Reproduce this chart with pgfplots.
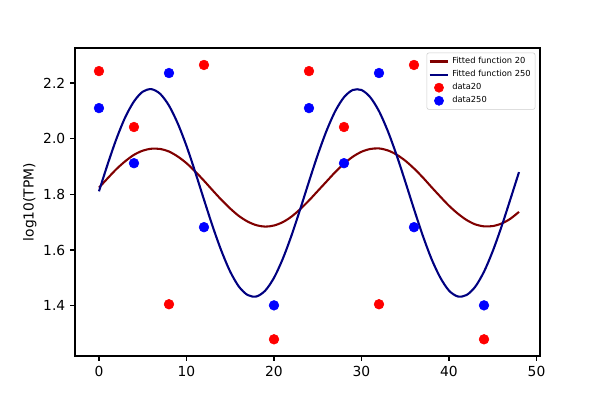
\documentclass[border=0pt]{standalone}
\usepackage{pgfplots}
\pgfplotsset{compat=1.18}
\usepackage{fontspec}
\setmainfont{DejaVu Sans}
\definecolor{fitred}{RGB}{128,0,0}
\definecolor{fitblue}{RGB}{0,0,128}
\begin{document}
\begin{tikzpicture}
\path[use as bounding box] (0,0) rectangle (6in,4in);
\begin{axis}[
  at={(0.75in,0.44in)}, anchor=south west,
  scale only axis, width=4.65in, height=3.08in,
  xmin=-2.74, xmax=50.4, ymin=1.219, ymax=2.326,
  xtick={0,10,20,30,40,50},
  ytick={1.4,1.6,1.8,2.0,2.2},
  yticklabel style={/pgf/number format/.cd,fixed,fixed zerofill,precision=1},
  /pgf/number format/assume math mode=true,
  tick align=outside, tick pos=left,
  major tick length=3.5bp,
  every tick/.style={black, line width=0.8bp},
  axis line style={line width=0.8bp},
  ticklabel style={font=\fontsize{10}{12}\selectfont},
  ylabel={log10(TPM)},
  ylabel style={at={(axis description cs:-0.097,0.5)}, anchor=center, font=\fontsize{10}{12}\selectfont},
  legend style={at={(0.99,0.985)}, anchor=north east, font=\fontsize{6}{7}\selectfont,
    draw=black!20, rounded corners=1.5pt, inner sep=1.2pt, row sep=-0.6pt},
  legend cell align=left,
  legend image code/.code={\draw[#1, line width=1.5bp] (0cm,0cm) -- (0.48cm,0cm);},
]
\addplot[fitred, line width=1.5bp, smooth] coordinates {
(0,1.824)(1,1.858)(2,1.891)(3,1.919)(4,1.942)(5,1.957)(6,1.964)(7,1.963)(8,1.954)(9,1.936)
(10,1.912)(11,1.882)(12,1.849)(13,1.814)(14,1.780)(15,1.749)(16,1.722)(17,1.702)(18,1.689)(19,1.684)
(20,1.688)(21,1.700)(22,1.720)(23,1.747)(24,1.778)(25,1.812)(26,1.846)(27,1.880)(28,1.910)(29,1.935)
(30,1.953)(31,1.963)(32,1.965)(33,1.958)(34,1.943)(35,1.921)(36,1.893)(37,1.861)(38,1.826)(39,1.792)
(40,1.759)(41,1.731)(42,1.708)(43,1.692)(44,1.685)(45,1.686)(46,1.695)(47,1.712)(48,1.737)};
\addlegendentry{Fitted function 20}
\addplot[fitblue, line width=1.5bp, smooth] coordinates {
(0,1.811)(1,1.909)(2,2.000)(3,2.077)(4,2.134)(5,2.169)(6,2.178)(7,2.161)(8,2.119)(9,2.055)
(10,1.974)(11,1.880)(12,1.781)(13,1.684)(14,1.596)(15,1.522)(16,1.468)(17,1.438)(18,1.433)(19,1.454)
(20,1.500)(21,1.568)(22,1.652)(23,1.747)(24,1.846)(25,1.942)(26,2.028)(27,2.099)(28,2.149)(29,2.175)
(30,2.175)(31,2.149)(32,2.099)(33,2.028)(34,1.942)(35,1.846)(36,1.747)(37,1.652)(38,1.568)(39,1.501)
(40,1.454)(41,1.433)(42,1.438)(43,1.468)(44,1.522)(45,1.596)(46,1.684)(47,1.781)(48,1.880)};
\addlegendentry{Fitted function 250}
\addplot[only marks, mark=*, mark size=3.5bp, color=red, mark options={draw=red, fill=red},
  legend image code/.code={\fill[red] (0.24cm,0cm) circle (3.3bp);}] coordinates {
(0,2.243)(4,2.042)(8,1.405)(12,2.265)(20,1.279)(24,2.243)(28,2.042)(32,1.405)(36,2.265)(44,1.279)};
\addlegendentry{data20}
\addplot[only marks, mark=*, mark size=3.5bp, color=blue, mark options={draw=blue, fill=blue},
  legend image code/.code={\fill[blue] (0.24cm,0cm) circle (3.3bp);}] coordinates {
(0,2.110)(4,1.912)(8,2.236)(12,1.682)(20,1.401)(24,2.110)(28,1.912)(32,2.236)(36,1.682)(44,1.401)};
\addlegendentry{data250}
\end{axis}
\end{tikzpicture}
\end{document}
